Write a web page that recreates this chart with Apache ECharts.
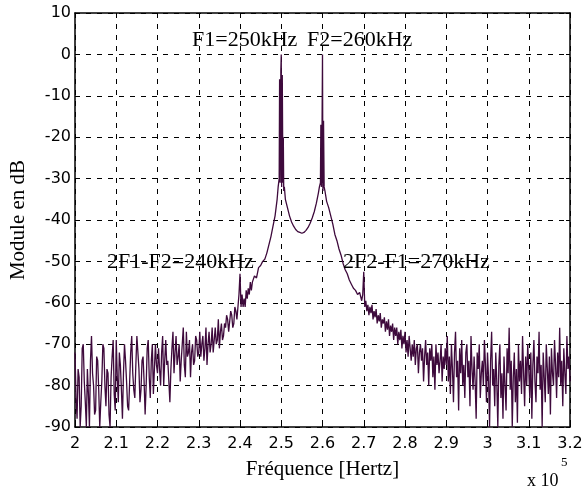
<!DOCTYPE html>
<html>
<head>
<meta charset="utf-8">
<script src="https://cdn.jsdelivr.net/npm/echarts@6/dist/echarts.min.js"></script>
<style>
html,body{margin:0;padding:0;background:#fff;}
#chart{width:586px;height:491px;}
</style>
</head>
<body>
<div id="chart"></div>
<script>
// x tick labels (units of 1e5 Hz), y ticks in dB
const xTickValuesKHz = [200,210,220,230,240,250,260,270,280,290,300,310,320];
const yTickValuesDb = [-90,-80,-70,-60,-50,-40,-30,-20,-10,0,10];

// spectrum samples: [frequency kHz, level dB]
const lowBandPoints = [
[200,-72],[200.25,-83],[200.5,-88],[200.75,-76],[201,-78],[201.25,-90],[201.5,-85],[201.75,-71],
[202,-70],[202.25,-79],[202.5,-84],[202.75,-90],[203,-76],[203.25,-82],[203.5,-90],[203.75,-74],
[204,-68],[204.25,-77],[204.5,-80],[204.75,-87],[205,-86],[205.25,-73],[205.5,-74],[205.75,-81],
[206,-90],[206.25,-84],[206.5,-79],[206.75,-70],[207,-71],[207.25,-80],[207.5,-85],[207.75,-76],
[208,-77],[208.25,-87],[208.5,-90],[208.75,-78],[209,-73],[209.25,-69],[209.5,-82],[209.75,-86],
[210,-69],[210.25,-78],[210.5,-84],[210.75,-72],[211,-75],[211.25,-81],[211.5,-88],[211.75,-77],
[212,-70],[212.25,-74],[212.5,-79],[212.75,-85],[213,-86],[213.25,-79],[213.5,-72],[213.75,-68],
[214,-77],[214.25,-81],[214.5,-83],[214.75,-75],[215,-68],[215.25,-72],[215.5,-76],[215.75,-84],
[216,-81],[216.25,-74],[216.5,-73],[216.75,-79],[217,-87],[217.25,-80],[217.5,-71],[217.75,-69],
[218,-78],[218.25,-83],[218.5,-74],[218.75,-70],[219,-82],[219.25,-76],[219.5,-70],[219.75,-75],
[220,-77],[220.25,-71],[220.5,-76],[220.75,-80],[221,-72],[221.25,-68],[221.5,-80],[221.75,-74],
[222,-69],[222.25,-75],[222.5,-74],[222.75,-79],[223,-84],[223.25,-76],[223.5,-71],[223.75,-67],
[224,-77],[224.25,-72],[224.5,-68],[224.75,-75],[225,-73],[225.25,-70],[225.5,-79],[225.75,-74],
[226,-70],[226.25,-66],[226.5,-75],[226.75,-78],[227,-67],[227.25,-73],[227.5,-72],[227.75,-69],
[228,-78],[228.25,-72],[228.5,-70],[228.75,-75],[229,-74],[229.25,-68],[229.5,-69],[229.75,-73],
[230,-72],[230.25,-67],[230.5,-73],[230.75,-70],[231,-68],[231.25,-74],[231.5,-71],[231.75,-66],
[232,-75],[232.25,-70],[232.5,-67],[232.75,-72],[233,-70],[233.25,-66],[233.5,-72],[233.75,-69],
[234,-66],[234.25,-70],[234.5,-69],[234.75,-64],[235,-71],[235.25,-67],[235.5,-65],[235.75,-69],
[236,-68],[236.25,-65],[236.5,-66],[236.75,-63],[237,-64],[237.25,-67],[237.5,-67],[237.75,-62],
[238,-63],[238.25,-66],[238.5,-65],[238.75,-61],[239,-62],[239.25,-64],[239.5,-61],[239.75,-58]
];
const peakRegionPoints = [
[240,-53],[240.25,-61],[240.5,-58],[240.75,-61],[241,-59],[241.25,-61],[241.5,-57],[241.75,-59],
[242,-56.5],[242.25,-58],[242.5,-55],[242.75,-57],[243,-55],[243.5,-53.5],[244,-54],[244.5,-51.5],
[245,-51],[245.5,-50],[246,-49.5],[246.5,-48],[247,-46],[247.5,-44],[248,-41.5],[248.5,-39],[249,-35],
[249.25,-32],[249.5,-30],[249.6,-6],[249.75,-31],[249.9,-4],[250,0],[250.1,-32],[250.25,-5],
[250.4,-31],[250.5,-20],[250.6,-33],[250.75,-32],[251,-35],
[251.5,-37],[252,-39],[252.5,-40.5],[253,-41.5],[253.5,-42.3],[254,-42.8],[254.5,-43],[255,-43.2],[255.5,-43],
[256,-42.5],[256.5,-41.8],[257,-40.8],[257.5,-39.5],[258,-38],[258.5,-36],[259,-33.5],
[259.25,-32],[259.5,-31],[259.6,-17],[259.75,-32],[259.9,-16],[260,0],[260.1,-33],[260.25,-16],
[260.4,-32],[260.6,-33],[261,-35.5],
[261.5,-37],[262,-39],[262.5,-41],[263,-43.5],[263.5,-45],[264,-47],[264.5,-48.5],[265,-50.5],[265.5,-52],
[266,-53],[266.5,-54.5],[267,-55.5],[267.5,-56.5],[268,-57],[268.5,-58],[269,-57.5],[269.5,-59.5],[269.75,-58],
[270,-52.5],[270.25,-61],[270.5,-59.5],[270.75,-62],[271,-60.5],[271.25,-63],[271.5,-61],[271.75,-62.5],
[272,-60.5],[272.25,-64],[272.5,-62],[272.75,-63.5],[273,-61.5],[273.25,-65],[273.5,-63],[273.75,-64.5],
[274,-62.5],[274.25,-66],[274.5,-64],[274.75,-65],[275,-63.5],[275.25,-67],[275.5,-64.5],[275.75,-66.5],
[276,-64],[276.25,-68],[276.5,-65.5],[276.75,-67],[277,-65],[277.25,-69],[277.5,-66],[277.75,-68],
[278,-66],[278.25,-70],[278.5,-67],[278.75,-69],[279,-66.5],[279.25,-71],[279.5,-68],[279.75,-70]
];
const highBandPoints = [
[280,-67],[280.25,-72],[280.5,-69],[280.75,-73],[281,-68],[281.25,-71],[281.5,-74],[281.75,-70],
[282,-73],[282.25,-69],[282.5,-75],[282.75,-71],[283,-70],[283.25,-77],[283.5,-72],[283.75,-70],
[284,-74],[284.25,-71],[284.5,-79],[284.75,-73],[285,-69],[285.25,-75],[285.5,-72],[285.75,-80],
[286,-71],[286.25,-74],[286.5,-70],[286.75,-78],[287,-73],[287.25,-81],[287.5,-70],[287.75,-75],
[288,-72],[288.25,-77],[288.5,-74],[288.75,-70],[289,-79],[289.25,-73],[289.5,-76],[289.75,-71],
[290,-75],[290.25,-68],[290.5,-79],[290.75,-73],[291,-82],[291.25,-70],[291.5,-76],[291.75,-84],
[292,-72],[292.25,-67],[292.5,-78],[292.75,-74],[293,-86],[293.25,-71],[293.5,-77],[293.75,-69],
[294,-80],[294.25,-75],[294.5,-83],[294.75,-72],[295,-70],[295.25,-78],[295.5,-74],[295.75,-85],
[296,-68],[296.25,-76],[296.5,-81],[296.75,-73],[297,-79],[297.25,-88],[297.5,-72],[297.75,-76],
[298,-70],[298.25,-83],[298.5,-77],[298.75,-74],[299,-80],[299.25,-69],[299.5,-75],[299.75,-84],
[300,-72],[300.25,-78],[300.5,-90],[300.75,-74],[301,-67],[301.25,-80],[301.5,-76],[301.75,-85],
[302,-72],[302.25,-79],[302.5,-90],[302.75,-75],[303,-70],[303.25,-83],[303.5,-77],[303.75,-88],
[304,-73],[304.25,-80],[304.5,-86],[304.75,-71],[305,-77],[305.25,-66],[305.5,-81],[305.75,-74],
[306,-90],[306.25,-78],[306.5,-72],[306.75,-84],[307,-76],[307.25,-89],[307.5,-70],[307.75,-79],
[308,-74],[308.25,-82],[308.5,-68],[308.75,-77],[309,-85],[309.25,-73],[309.5,-80],[309.75,-70],
[310,-76],[310.25,-83],[310.5,-72],[310.75,-88],[311,-75],[311.25,-69],[311.5,-79],[311.75,-84],
[312,-73],[312.25,-77],[312.5,-67],[312.75,-81],[313,-75],[313.25,-90],[313.5,-72],[313.75,-78],
[314,-84],[314.25,-70],[314.5,-76],[314.75,-82],[315,-73],[315.25,-87],[315.5,-71],[315.75,-77],
[316,-80],[316.25,-69],[316.5,-75],[316.75,-83],[317,-72],[317.25,-78],[317.5,-66],[317.75,-80],
[318,-74],[318.25,-85],[318.5,-71],[318.75,-77],[319,-82],[319.25,-68],[319.5,-76],[319.75,-73],
[320,-79]
];
const spectrumPoints = lowBandPoints.concat(peakRegionPoints, highBandPoints);

const annotations = [
  {text:'F1=250kHz', left:192, top:40},
  {text:'F2=260kHz', left:307, top:40},
  {text:'2F1-F2=240kHz', left:107, top:262},
  {text:'2F2-F1=270kHz', left:343, top:262}
];

const chart = echarts.init(document.getElementById('chart'), null, {renderer:'canvas'});
const fmtX = v => String(+(v/100).toFixed(1));
const tickFont = {fontFamily:'DejaVu Sans', fontSize:16, color:'#000'};
const serif = 'Liberation Serif';

const option = {
  animation:false,
  backgroundColor:'#fff',
  grid:{left:70, right:16, top:13, bottom:64, show:false},
  xAxis:[{
    type:'value', min:200, max:320, interval:10,
    name:'Fréquence [Hertz]', nameLocation:'middle', nameGap:32,
    nameTextStyle:{fontFamily:serif, fontSize:21, color:'#000'},
    axisLine:{show:true, onZero:false, lineStyle:{color:'#000', width:1.5}},
    axisTick:{show:true, inside:true, length:4, lineStyle:{color:'#000'}},
    axisLabel:Object.assign({formatter:fmtX, margin:9}, tickFont),
    splitLine:{show:true, lineStyle:{color:'#000', type:[5,6], width:1}}
  },{
    type:'value', min:200, max:320, interval:10, position:'top',
    axisLine:{show:true, onZero:false, lineStyle:{color:'#000', width:1.5}},
    axisTick:{show:true, inside:true, length:4, lineStyle:{color:'#000'}},
    axisLabel:{show:false}, splitLine:{show:false}
  }],
  yAxis:[{
    type:'value', min:-90, max:10, interval:10,
    name:'Module en dB', nameLocation:'middle', nameGap:46, nameRotate:90,
    nameTextStyle:{fontFamily:serif, fontSize:21, color:'#000'},
    axisLine:{show:true, onZero:false, lineStyle:{color:'#000', width:1.5}},
    axisTick:{show:true, inside:true, length:4, lineStyle:{color:'#000'}},
    axisLabel:Object.assign({margin:4}, tickFont),
    splitLine:{show:true, lineStyle:{color:'#000', type:[5,6], width:1}}
  },{
    type:'value', min:-90, max:10, interval:10, position:'right',
    axisLine:{show:true, onZero:false, lineStyle:{color:'#000', width:1.5}},
    axisTick:{show:true, inside:true, length:4, lineStyle:{color:'#000'}},
    axisLabel:{show:false}, splitLine:{show:false}
  }],
  series:[{
    type:'line', xAxisIndex:0, yAxisIndex:0,
    data:spectrumPoints, showSymbol:false, symbol:'none',
    lineStyle:{color:'#3e0a3c', width:1.3},
    z:1
  }],
  graphic: annotations.map(a => ({
    type:'text', left:a.left, top:a.top-11, z:10,
    style:{text:a.text, fontFamily:serif, fontSize:22, fill:'#000'}
  })).concat([
    {type:'text', left:527, top:472, style:{text:'x 10', fontFamily:serif, fontSize:18, fill:'#000'}},
    {type:'text', left:561, top:456, style:{text:'5', fontFamily:serif, fontSize:13, fill:'#000'}}
  ])
};
chart.setOption(option);
</script>
</body>
</html>
